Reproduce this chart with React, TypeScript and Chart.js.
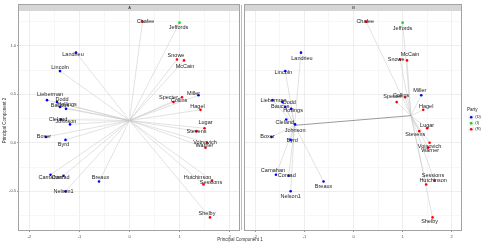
import React, { useEffect, useRef } from "react";
import { Chart, registerables } from "chart.js";
Chart.register(...registerables);

// ---- data ----
const senators = ["Chafee","Jeffords","Landrieu","Lincoln","Snowe","McCain","Lieberman","Dodd","Baucus","Hollings","Cleland","Johnson","Boxer","Byrd","Carnahan","Conrad","Nelson1","Breaux","Specter","Collins","Miller","Hagel","Lugar","Stevens","Voinovich","Warner","Hutchinson","Sessions","Shelby"];
const party = ["R","I","D","D","R","R","D","D","D","D","D","D","D","D","D","D","D","D","R","R","D","R","R","R","R","R","R","R","R"];
const pc1 = [0.26,1.0,-1.07,-1.39,0.95,1.09,-1.65,-1.45,-1.39,-1.27,-1.37,-1.19,-1.67,-1.28,-1.58,-1.32,-1.28,-0.61,0.88,1.05,1.38,1.42,1.5,1.34,1.55,1.52,1.48,1.65,1.61];
const pc2 = [1.25,1.24,0.93,0.74,0.86,0.85,0.44,0.42,0.37,0.35,0.24,0.19,0.06,0.03,-0.33,-0.34,-0.5,-0.4,0.42,0.47,0.49,0.34,0.15,0.12,0.0,-0.05,-0.43,-0.39,-0.77];
const partyLevels = ["D","I","R"];
const partyLabels = ["(D)","(I)","(R)"];
const partyColors = ["#0000ff","#00e000","#ff0000"];
const panelNames = ["A","B"];
const centerA = { x: 0, y: 0.23 };
const centerBLeft = { x: -1.2, y: 0.18 };
const centerBRight = { x: 1.17, y: 0.28 };

// label nudges (pixels) per panel
const nudgeA = [[3,0],[-1,5],[-3,1.5],[0,-4],[-1,-4],[1,6.5],[3,-6],[5,-3],[0,-1.5],[1,-4.5],[-3,0],[-4,-3],[-2,0],[-2,5],[0,3],[-3,2],[-2,0],[1.5,-4.5],[-5,-5],[-3,3],[-5,-1.5],[-3,-3],[1,-6],[0,0],[-2,0],[-1,-2],[-6,-7],[-1,1.5],[-3,-4]];
const nudgeB = [[-1,0],[0,6],[1,5.5],[-2,1.5],[-4,0],[3,-6],[1,0],[7,0],[-5,0],[2,2],[-1.5,3],[0,6.5],[-4,0],[1.5,1],[-3,-4],[-2,0],[0,5],[0,4.5],[-4,-6],[-4,-2],[-1.5,-4.5],[3,-3],[0,-2.5],[-4,3],[0,4],[2,3],[7,-3.5],[-1.5,-5],[-3,4]];

const X_MIN = -2.21, X_MAX = 2.21, Y_MIN = -0.9, Y_MAX = 1.36;
const FONT = '"Liberation Sans", Arial, Helvetica, sans-serif';

function pointDatasets() {
  return partyLevels.map((p, k) => ({
    label: partyLabels[k],
    data: senators.map((_, i) => ({ x: pc1[i], y: pc2[i] })).filter((_, i) => party[i] === p),
    backgroundColor: partyColors[k],
    borderWidth: 0,
    pointRadius: 1.3,
    order: 0,
  }));
}

function segment(a: any, b: any, color: string, width: number) {
  return {
    data: [a, b],
    showLine: true,
    borderColor: color,
    borderWidth: width,
    pointRadius: 0,
    fill: false,
    order: 2,
  };
}

function isMajorX(v: number) { return Math.abs(v - Math.round(v)) < 1e-9; }
function isMajorY(v: number) { return Math.abs(v * 2 - Math.round(v * 2)) < 1e-9; }

function xScale(): any {
  return {
    type: "linear", min: X_MIN, max: X_MAX,
    ticks: {
      stepSize: 0.5, includeBounds: false, autoSkip: false, maxRotation: 0,
      font: { size: 4, family: FONT }, color: "#4d4d4d", padding: 2,
      callback: (v: any) => (isMajorX(Number(v)) ? String(Number(v)) : ""),
    },
    grid: {
      color: (c: any) => (c.tick && isMajorX(c.tick.value) ? "#e6e6e6" : "#f3f3f3"),
      lineWidth: 0.7, tickLength: 2,
      tickColor: (c: any) => (c.tick && isMajorX(c.tick.value) ? "#666" : "rgba(0,0,0,0)"),
    },
    border: { display: false },
    afterFit: (s: any) => { s.height = 16; },
  };
}

function labelPlugin(nudge: number[][]) {
  return {
    id: "labels",
    afterDatasetsDraw(chart: any) {
      const ctx = chart.ctx, xs = chart.scales.x, ys = chart.scales.y;
      ctx.save();
      ctx.font = `5.5px ${FONT}`;
      ctx.fillStyle = "#222";
      ctx.textAlign = "center";
      ctx.textBaseline = "middle";
      senators.forEach((n, i) => {
        ctx.fillText(n, xs.getPixelForValue(pc1[i]) + nudge[i][0], ys.getPixelForValue(pc2[i]) + nudge[i][1]);
      });
      ctx.restore();
    },
  };
}

function panelPlugin(name: string, extra?: (chart: any) => void) {
  return {
    id: "panel",
    beforeDraw(chart: any) {
      const { ctx, chartArea: a } = chart;
      ctx.save();
      ctx.fillStyle = "#ffffff";
      ctx.fillRect(a.left, a.top, a.right - a.left, a.bottom - a.top);
      ctx.restore();
    },
    afterDraw(chart: any) {
      const { ctx, chartArea: a } = chart;
      ctx.save();
      // strip
      ctx.fillStyle = "#d6d6d6";
      ctx.fillRect(a.left, 5, a.right - a.left, 6);
      ctx.fillStyle = "#1a1a1a";
      ctx.font = `4px ${FONT}`;
      ctx.textAlign = "center";
      ctx.textBaseline = "middle";
      ctx.fillText(name, (a.left + a.right) / 2, 8.2);
      // border
      ctx.strokeStyle = "#a3a3a3";
      ctx.lineWidth = 1;
      ctx.strokeRect(Math.round(a.left) - 0.5, 4.5, Math.round(a.right - a.left) + 0, Math.round(a.bottom) - 4);
      if (extra) extra(chart);
      ctx.restore();
    },
  };
}

export default function App() {
  const refA = useRef<HTMLCanvasElement>(null);
  const refB = useRef<HTMLCanvasElement>(null);

  useEffect(() => {
    document.body.style.margin = "0";
    const segsA = senators.map((_, i) => segment(centerA, { x: pc1[i], y: pc2[i] }, "#c4c4c4", 0.5));
    const chartA = new Chart(refA.current as HTMLCanvasElement, {
      type: "scatter",
      data: { datasets: [...pointDatasets(), ...segsA] as any },
      options: {
        animation: false, responsive: false, devicePixelRatio: 1,
        layout: { padding: { top: 11, left: 0, right: 251, bottom: 0 } },
        plugins: { legend: { display: false }, tooltip: { enabled: false } },
        scales: {
          x: xScale(),
          y: {
            type: "linear", min: Y_MIN, max: Y_MAX,
            ticks: {
              stepSize: 0.25, includeBounds: false, autoSkip: false,
              font: { size: 4, family: FONT }, color: "#4d4d4d", padding: 1,
              callback: (v: any) => (isMajorY(Number(v)) ? Number(v).toFixed(1) : ""),
            },
            grid: {
              color: (c: any) => (c.tick && isMajorY(c.tick.value) ? "#e6e6e6" : "#f3f3f3"),
              lineWidth: 0.7, tickLength: 2,
              tickColor: (c: any) => (c.tick && isMajorY(c.tick.value) ? "#666" : "rgba(0,0,0,0)"),
            },
            border: { display: false },
            title: { display: true, text: "Principal Component 2", font: { size: 4.5, family: FONT }, color: "#333", padding: { top: 2, bottom: 0 } },
            afterFit: (s: any) => { s.width = 19; },
          } as any,
        },
      } as any,
      plugins: [
        panelPlugin(panelNames[0], (chart: any) => {
          const ctx = chart.ctx;
          ctx.fillStyle = "#333";
          ctx.font = `4.5px ${FONT}`;
          ctx.textAlign = "center";
          ctx.textBaseline = "middle";
          ctx.fillText("Principal Component 1", 240, 240);
        }),
        labelPlugin(nudgeA),
      ],
    });

    const segsB = senators.map((_, i) =>
      segment(pc1[i] < 0 ? centerBLeft : centerBRight, { x: pc1[i], y: pc2[i] }, "#c4c4c4", 0.5)
    );
    const link = segment(centerBLeft, centerBRight, "#707070", 0.7);
    const chartB = new Chart(refB.current as HTMLCanvasElement, {
      type: "scatter",
      data: { datasets: [...pointDatasets(), { ...link, order: 1 }, ...segsB] as any },
      options: {
        animation: false, responsive: false, devicePixelRatio: 1,
        layout: { padding: { top: 11, left: 1, right: 29, bottom: 0 } },
        plugins: { legend: { display: false }, tooltip: { enabled: false } },
        scales: {
          x: xScale(),
          y: {
            type: "linear", min: Y_MIN, max: Y_MAX,
            ticks: { stepSize: 0.25, includeBounds: false, autoSkip: false, display: false },
            grid: {
              color: (c: any) => (c.tick && isMajorY(c.tick.value) ? "#e6e6e6" : "#f3f3f3"),
              lineWidth: 0.7, drawTicks: false, tickLength: 0,
            },
            border: { display: false },
            afterFit: (s: any) => { s.width = 0; },
          } as any,
        },
      } as any,
      plugins: [
        panelPlugin(panelNames[1], (chart: any) => {
          const ctx = chart.ctx;
          // band between panels
          ctx.fillStyle = "#bdbdbd";
          ctx.fillRect(0, 5, 1, chart.chartArea.bottom - 5);
          // legend
          ctx.fillStyle = "#1a1a1a";
          ctx.font = `4.5px ${FONT}`;
          ctx.textAlign = "left";
          ctx.textBaseline = "middle";
          ctx.fillText("Party", 226, 110);
          partyLevels.forEach((_, k) => {
            const yc = 117.3 + k * 6;
            ctx.fillStyle = "#f2f2f2";
            ctx.fillRect(227.5, yc - 2.7, 5.4, 5.4);
            ctx.fillStyle = partyColors[k];
            ctx.beginPath();
            ctx.arc(230.2, yc, 1.3, 0, Math.PI * 2);
            ctx.fill();
            ctx.fillStyle = "#1a1a1a";
            ctx.font = `4px ${FONT}`;
            ctx.fillText(partyLabels[k], 234.3, yc);
          });
        }),
        labelPlugin(nudgeB),
      ],
    });

    return () => { chartA.destroy(); chartB.destroy(); };
  }, []);

  return (
    <div style={{ position: "relative", width: 491, height: 246, background: "#fff" }}>
      <canvas ref={refA} width={491} height={246} style={{ position: "absolute", left: 0, top: 0 }} />
      <canvas ref={refB} width={250} height={246} style={{ position: "absolute", left: 241, top: 0 }} />
    </div>
  );
}
